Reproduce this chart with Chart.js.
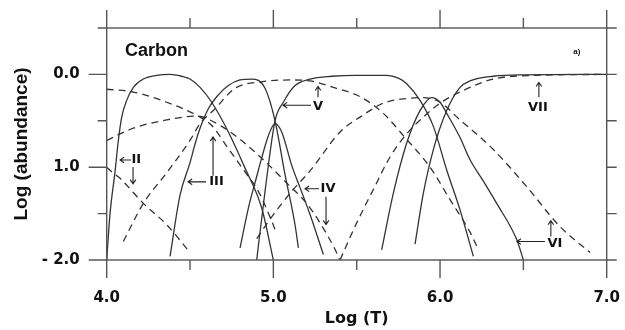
<!DOCTYPE html>
<html>
<head>
<meta charset="utf-8">
<script src="https://cdn.jsdelivr.net/npm/chart.js@4/dist/chart.umd.min.js"></script>
<style>
html,body{margin:0;padding:0;background:#fff;}
#wrap{width:625px;height:330px;}
</style>
</head>
<body>
<div id="wrap"><canvas id="chart" width="625" height="330"></canvas></div>
<script>
// axis ticks
const xTicks = [4.0, 4.5, 5.0, 5.5, 6.0, 6.5, 7.0];
const xTickLabels = ["4.0", "", "5.0", "", "6.0", "", "7.0"];
const yTicks = [0.5, 0.0, -0.5, -1.0, -1.5, -2.0];
const yTickLabels = ["", "0.0", "", "1.0", "", "- 2.0"];

// solid curves: [log T, log abundance]
const solidII = [[4.0,-2.0],[4.02,-1.5],[4.05,-1.05],[4.07,-0.71],[4.09,-0.46],[4.12,-0.28],[4.16,-0.14],[4.22,-0.05],[4.3,-0.01],[4.38,0.0],[4.45,-0.02],[4.5,-0.05],[4.56,-0.14],[4.63,-0.3],[4.73,-0.62],[4.83,-1.01],[4.93,-1.44],[5.0,-2.0]];
const solidIII = [[4.38,-1.96],[4.44,-1.3],[4.5,-0.95],[4.53,-0.75],[4.56,-0.58],[4.61,-0.37],[4.67,-0.22],[4.73,-0.12],[4.8,-0.06],[4.87,-0.05],[4.95,-0.15],[5.01,-0.5],[5.07,-1.08],[5.13,-1.62],[5.15,-1.87]];
const solidIV = [[4.8,-1.87],[4.85,-1.44],[4.9,-1.1],[4.93,-0.9],[4.97,-0.66],[5.01,-0.53],[5.05,-0.62],[5.11,-0.98],[5.16,-1.22],[5.22,-1.51],[5.3,-1.94]];
const solidV = [[4.9,-2.0],[4.95,-1.26],[5.01,-0.5],[5.06,-0.3],[5.13,-0.12],[5.22,-0.05],[5.35,-0.02],[5.5,-0.01],[5.68,-0.01],[5.75,-0.04],[5.8,-0.1],[5.88,-0.28],[5.96,-0.56],[6.04,-1.03],[6.12,-1.46],[6.2,-1.96]];
const solidVI = [[5.65,-1.89],[5.72,-1.28],[5.8,-0.74],[5.88,-0.39],[5.95,-0.25],[6.0,-0.3],[6.04,-0.42],[6.12,-0.68],[6.18,-0.92],[6.26,-1.15],[6.34,-1.39],[6.46,-1.78],[6.5,-2.0]];
const solidVII = [[5.85,-1.83],[5.9,-1.28],[5.96,-0.81],[6.04,-0.39],[6.12,-0.14],[6.18,-0.07],[6.32,-0.02],[6.5,-0.005],[7.0,0.0]];

// dashed curves
const dashedI = [[4.0,-1.0],[4.03,-1.05],[4.08,-1.12],[4.22,-1.39],[4.36,-1.62],[4.5,-1.92]];
const dashedII = [[4.0,-0.16],[4.16,-0.19],[4.36,-0.3],[4.56,-0.46],[4.63,-0.55],[4.73,-0.8],[4.83,-1.05],[4.91,-1.26],[4.99,-1.58],[5.02,-1.72]];
const dashedIII = [[4.0,-0.71],[4.16,-0.58],[4.36,-0.49],[4.54,-0.45],[4.69,-0.56],[4.8,-0.7],[4.94,-0.92],[5.08,-1.17],[5.2,-1.39],[5.28,-1.6],[5.36,-1.85],[5.4,-2.0]];
const dashedIV = [[4.1,-1.8],[4.22,-1.39],[4.36,-1.06],[4.5,-0.71],[4.56,-0.53],[4.65,-0.37],[4.77,-0.15],[4.93,-0.08],[5.1,-0.06],[5.22,-0.07],[5.36,-0.14],[5.52,-0.24],[5.66,-0.42],[5.78,-0.66],[5.94,-1.0],[6.06,-1.35],[6.18,-1.7],[6.22,-1.85]];
const dashedVI = [[4.9,-1.77],[4.98,-1.56],[5.11,-1.26],[5.22,-1.04],[5.4,-0.62],[5.52,-0.46],[5.66,-0.31],[5.8,-0.26],[5.9,-0.25],[6.0,-0.3],[6.12,-0.49],[6.32,-0.81],[6.52,-1.21],[6.72,-1.64],[6.9,-1.92]];
const dashedVII = [[5.4,-2.0],[5.5,-1.6],[5.6,-1.24],[5.7,-0.89],[5.8,-0.64],[5.9,-0.46],[6.0,-0.31],[6.12,-0.19],[6.32,-0.05],[6.58,-0.01],[7.0,0.0]];

const solidCurves = [solidII, solidIII, solidIV, solidV, solidVI, solidVII];
const dashedCurves = [dashedI, dashedII, dashedIII, dashedIV, dashedVI, dashedVII];

// ion labels and their arrows (tail -> tip), in data units
const arrows = [
  [4.146,-0.922, 4.080,-0.922],
  [4.158,-0.997, 4.158,-1.179],
  [4.596,-1.158, 4.488,-1.158],
  [4.638,-1.093, 4.638,-0.675],
  [5.226,-0.332, 5.058,-0.332],
  [5.268,-0.247, 5.268,-0.129],
  [5.274,-1.233, 5.190,-1.233],
  [5.316,-1.318, 5.316,-1.618],
  [6.593,-0.247, 6.593,-0.086],
  [6.629,-1.801, 6.461,-1.801],
  [6.665,-1.747, 6.665,-1.576]
];
const ionLabels = [
  ["II", 4.178, -0.922],
  ["III", 4.659, -1.158],
  ["V", 5.268, -0.343],
  ["IV", 5.328, -1.233],
  ["VII", 6.587, -0.354],
  ["VI", 6.689, -1.822]
];

function toPoints(arr) {
  return arr.map(p => ({x: p[0], y: p[1]}));
}

const datasets = [];
solidCurves.forEach(c => {
  datasets.push({data: toPoints(c), showLine: true, borderColor: '#333', borderWidth: 1.3,
    pointRadius: 0, cubicInterpolationMode: 'monotone', fill: false});
});
dashedCurves.forEach(c => {
  datasets.push({data: toPoints(c), showLine: true, borderColor: '#333', borderWidth: 1.3,
    borderDash: [7, 5], pointRadius: 0, cubicInterpolationMode: 'monotone', fill: false});
});

const framePlugin = {
  id: 'frame',
  afterDatasetsDraw(chart) {
    const ctx = chart.ctx;
    const a = chart.chartArea;
    const x = chart.scales.x, y = chart.scales.y;
    ctx.save();
    ctx.strokeStyle = '#555';
    ctx.lineWidth = 1.4;
    ctx.strokeRect(a.left, a.top, a.right - a.left, a.bottom - a.top);
    ctx.beginPath();
    xTicks.forEach(v => {
      const px = x.getPixelForValue(v);
      const len = Number.isInteger(v) ? 18 : 10;
      ctx.moveTo(px, a.bottom); ctx.lineTo(px, a.bottom + len);
      ctx.moveTo(px, a.top); ctx.lineTo(px, a.top - len);
    });
    yTicks.forEach(v => {
      const py = y.getPixelForValue(v);
      const len = Number.isInteger(v) ? 18 : 9;
      ctx.moveTo(a.left, py); ctx.lineTo(a.left - len, py);
      ctx.moveTo(a.right, py); ctx.lineTo(a.right + 10, py);
    });
    ctx.stroke();

    // arrows
    ctx.strokeStyle = '#222';
    ctx.lineWidth = 1.1;
    arrows.forEach(ar => {
      const x1 = x.getPixelForValue(ar[0]), y1 = y.getPixelForValue(ar[1]);
      const x2 = x.getPixelForValue(ar[2]), y2 = y.getPixelForValue(ar[3]);
      const ang = Math.atan2(y2 - y1, x2 - x1);
      ctx.beginPath();
      ctx.moveTo(x1, y1); ctx.lineTo(x2, y2);
      ctx.moveTo(x2 - 5 * Math.cos(ang - 0.6), y2 - 5 * Math.sin(ang - 0.6));
      ctx.lineTo(x2, y2);
      ctx.lineTo(x2 - 5 * Math.cos(ang + 0.6), y2 - 5 * Math.sin(ang + 0.6));
      ctx.stroke();
    });

    ctx.fillStyle = '#111';
    ctx.textAlign = 'center';
    ctx.textBaseline = 'middle';
    ctx.font = 'bold 13px "DejaVu Sans"';
    ionLabels.forEach(l => {
      ctx.fillText(l[0], x.getPixelForValue(l[1]), y.getPixelForValue(l[2]));
    });

    ctx.textAlign = 'left';
    ctx.font = 'bold 18px "Liberation Sans"';
    ctx.fillText('Carbon', x.getPixelForValue(4.11), y.getPixelForValue(0.257));
    ctx.textAlign = 'center';
    ctx.font = 'bold 8px "Liberation Sans"';
    ctx.fillText('a)', x.getPixelForValue(6.821), y.getPixelForValue(0.247));
    ctx.restore();
  }
};

new Chart(document.getElementById('chart'), {
  type: 'scatter',
  data: {datasets: datasets},
  options: {
    responsive: false,
    animation: false,
    layout: {padding: {left: 0, right: 18.3, top: 28, bottom: 0}},
    plugins: {legend: {display: false}, tooltip: {enabled: false}},
    scales: {
      x: {
        type: 'linear', min: 4.0, max: 7.0,
        afterBuildTicks: s => { s.ticks = xTicks.map(v => ({value: v})); },
        afterFit: s => { s.height = 70; s.paddingLeft = 0; s.paddingRight = 0; },
        grid: {display: false, drawTicks: false},
        border: {display: false},
        ticks: {
          callback: (v, i) => xTickLabels[i],
          font: {family: 'DejaVu Sans', weight: 'bold', size: 15},
          color: '#111', padding: 29, maxRotation: 0, autoSkip: false
        },
        title: {display: true, text: 'Log (T)', color: '#111',
          font: {family: 'DejaVu Sans', weight: 'bold', size: 16},
          padding: {top: 0, bottom: 2}}
      },
      y: {
        type: 'linear', min: -2.0, max: 0.5,
        afterBuildTicks: s => { s.ticks = yTicks.map(v => ({value: v})); },
        afterFit: s => { s.width = 106.7; s.paddingTop = 0; s.paddingBottom = 0; },
        grid: {display: false, drawTicks: false},
        border: {display: false},
        ticks: {
          callback: (v, i) => yTickLabels[i],
          font: {family: 'DejaVu Sans', weight: 'bold', size: 15},
          color: '#111', padding: 27, autoSkip: false
        },
        title: {display: true, text: 'Log (abundance)', color: '#111',
          font: {family: 'Liberation Sans', weight: 'bold', size: 19},
          padding: {top: 10, bottom: 0}}
      }
    }
  },
  plugins: [framePlugin]
});
</script>
</body>
</html>
